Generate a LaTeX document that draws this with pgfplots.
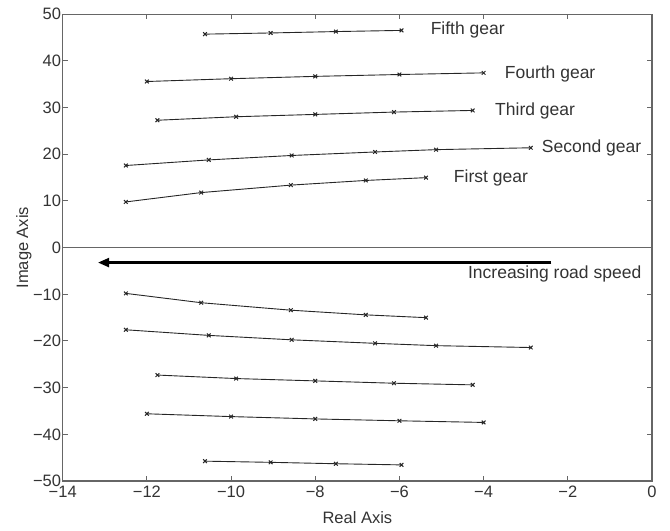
\documentclass[border=0pt]{standalone}
\usepackage{fontspec}
\setmainfont{Liberation Sans}
\usepackage{pgfplots}
\pgfplotsset{compat=1.18}
\usetikzlibrary{arrows.meta}

\definecolor{framegray}{gray}{0.4}
\definecolor{linegray}{gray}{0.15}

\pgfplotsset{gear/.style={linegray, solid, line width=0.9bp, mark=x, mark size=2.6bp,
    mark options={solid, line width=1bp}}}

\begin{document}
\begin{tikzpicture}
\useasboundingbox (-62.7bp,-50bp) rectangle (607.3bp,481bp);
\begin{axis}[
    scale only axis,
    width=589.3bp, height=466.7bp,
    xmin=-14, xmax=0, ymin=-50, ymax=50,
    xtick={-14,-12,...,0}, ytick={-50,-40,...,50},
    xticklabels={−14,−12,−10,−8,−6,−4,−2,0},
    yticklabels={−50,−40,−30,−20,−10,0,10,20,30,40,50},
    tick pos=both, tick align=inside, major tick length=5bp,
    axis line style={framegray, line width=1.2bp},
    tick style={framegray, line width=1bp},
    font=\fontsize{17.5bp}{20bp}\selectfont,
    tick label style={font=\fontsize{16.5bp}{19bp}\selectfont, text=black!80},
    yticklabel style={inner sep=1.5bp},
    xticklabel style={yshift=-1.5bp},
    label style={font=\fontsize{16.5bp}{19bp}\selectfont, text=black!80},
    xlabel={Real Axis},
    ylabel={Image Axis},
    xlabel style={at={(axis description cs:0.5,-0.079)}, anchor=center},
    ylabel style={at={(axis description cs:-0.066,0.5)}, anchor=center},
    clip=false,
]
% zero line
\draw[framegray, line width=1bp] (axis cs:-14,0) -- (axis cs:0,0);

% first gear
\addplot[gear] coordinates {(-12.5,9.8) (-10.71,11.8) (-8.58,13.4) (-6.80,14.4) (-5.37,15.0)};
\addplot[gear] coordinates {(-12.5,-9.8) (-10.71,-11.8) (-8.58,-13.4) (-6.80,-14.4) (-5.37,-15.0)};
% second gear
\addplot[gear] coordinates {(-12.5,17.6) (-10.53,18.8) (-8.56,19.75) (-6.58,20.5) (-5.13,21.0) (-2.88,21.4)};
\addplot[gear] coordinates {(-12.5,-17.6) (-10.53,-18.8) (-8.56,-19.75) (-6.58,-20.5) (-5.13,-21.0) (-2.88,-21.4)};
% third gear
\addplot[gear] coordinates {(-11.75,27.3) (-9.88,28.05) (-8.0,28.55) (-6.13,29.05) (-4.26,29.4)};
\addplot[gear] coordinates {(-11.75,-27.3) (-9.88,-28.05) (-8.0,-28.55) (-6.13,-29.05) (-4.26,-29.4)};
% fourth gear
\addplot[gear] coordinates {(-12.0,35.6) (-10.0,36.2) (-8.0,36.7) (-6.0,37.1) (-4.0,37.45)};
\addplot[gear] coordinates {(-12.0,-35.6) (-10.0,-36.2) (-8.0,-36.7) (-6.0,-37.1) (-4.0,-37.45)};
% fifth gear
\addplot[gear] coordinates {(-10.62,45.75) (-9.06,46.0) (-7.51,46.3) (-5.95,46.55)};
\addplot[gear] coordinates {(-10.62,-45.75) (-9.06,-46.0) (-7.51,-46.3) (-5.95,-46.55)};

\node[anchor=west, inner sep=0, text=black!80] at (axis cs:-5.26,46.6) {Fifth gear};
\node[anchor=west, inner sep=0, text=black!80] at (axis cs:-3.5,37.2) {Fourth gear};
\node[anchor=west, inner sep=0, text=black!80] at (axis cs:-3.73,29.3) {Third gear};
\node[anchor=west, inner sep=0, text=black!80] at (axis cs:-2.62,21.4) {Second gear};
\node[anchor=west, inner sep=0, text=black!80] at (axis cs:-4.71,14.9) {First gear};

\draw[black, line width=2.2bp, -{Triangle[length=11bp,width=9bp]}]
    (axis cs:-2.39,-3.2) -- (axis cs:-13.16,-3.2);
\node[anchor=east, inner sep=0, text=black!80] at (axis cs:-0.25,-5.6) {Increasing road speed};
\end{axis}
\end{tikzpicture}
\end{document}
